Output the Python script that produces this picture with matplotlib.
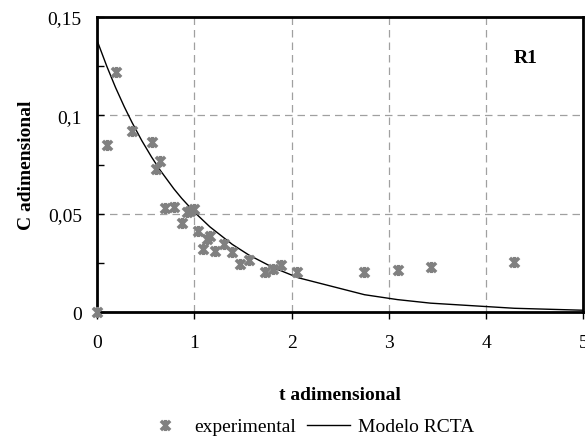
import matplotlib
matplotlib.use("Agg")
import matplotlib.pyplot as plt
from matplotlib.path import Path
from matplotlib.lines import Line2D

# experimental tracer response, reactor R1
t_exp = [0.00, 0.10, 0.19, 0.36, 0.56, 0.61, 0.65, 0.70, 0.79, 0.87, 0.92,
         0.96, 1.00, 1.04, 1.09, 1.13, 1.16, 1.21, 1.30, 1.39, 1.47, 1.56,
         1.73, 1.81, 1.89, 2.06, 2.75, 3.09, 3.43, 4.29]
c_exp = [0.000, 0.085, 0.122, 0.092, 0.0865, 0.0725, 0.077, 0.053, 0.0535,
         0.0452, 0.051, 0.0515, 0.0525, 0.0413, 0.032, 0.037, 0.0388, 0.0312,
         0.0346, 0.0307, 0.0244, 0.0266, 0.0202, 0.0219, 0.0239, 0.0205,
         0.0205, 0.0214, 0.0228, 0.0252]

# RCTA model curve
t_mod = [0.00, 0.10, 0.19, 0.28, 0.36, 0.46, 0.56, 0.65, 0.79, 0.87, 1.00,
         1.16, 1.39, 1.56, 1.81, 2.07, 2.75, 3.09, 3.43, 4.29, 5.00]
c_mod = [0.1380, 0.1249, 0.1141, 0.1043, 0.0963, 0.0871, 0.0788, 0.0720,
         0.0626, 0.0578, 0.0508, 0.0433, 0.0344, 0.0290, 0.0226, 0.0174,
         0.0088, 0.0063, 0.0045, 0.0019, 0.0009]

x_ticks = [0, 1, 2, 3, 4, 5]
y_ticks = [0, 0.05, 0.1, 0.15]
y_ticklabels = ["0", "0,05", "0,1", "0,15"]

plt.rcParams["font.family"] = ["Liberation Serif", "DejaVu Serif"]
GRAY = "#808080"

# Excel-style star: an x with a vertical bar through it
STAR = Path([(-1, -1), (1, 1), (-1, 1), (1, -1), (0, -1.2), (0, 1.2)],
            [Path.MOVETO, Path.LINETO, Path.MOVETO, Path.LINETO,
             Path.MOVETO, Path.LINETO])

fig = plt.figure(figsize=(5.85, 4.39), dpi=100)
ax = fig.add_axes([0.166, 0.287, 0.831, 0.672])

ax.plot(t_exp, c_exp, linestyle="none", marker=STAR, markersize=8,
        markeredgewidth=2.5, color=GRAY, zorder=4, clip_on=False)
ax.plot(t_mod, c_mod, color="black", linewidth=1.0, zorder=3)

ax.set_xlim(0, 5)
ax.set_ylim(0, 0.15)
ax.set_xticks(x_ticks)
ax.set_xticklabels([str(v) for v in x_ticks])
ax.set_yticks(y_ticks)
ax.set_yticklabels(y_ticklabels)
ax.set_yticks([0.025, 0.075, 0.125], minor=True)

ax.tick_params(axis="x", direction="out", length=5, width=1, pad=11,
               labelsize=14)
ax.tick_params(axis="y", which="both", direction="in", length=5, width=1,
               pad=11, labelsize=14)

for s in ax.spines.values():
    s.set_linewidth(2)
    s.set_color("black")

ax.grid(True, color="#a0a0a0", linestyle=(0, (6, 4)), linewidth=0.9)

ax.set_xlabel("t adimensional", fontsize=14, fontweight="bold", labelpad=25)
ax.set_ylabel("C adimensional", fontsize=14, fontweight="bold", labelpad=9)

ax.text(4.41, 0.1296, "R1", fontsize=14, fontweight="bold",
        ha="center", va="center")

handles = [
    Line2D([], [], linestyle="none", marker=STAR, markersize=8,
           markeredgewidth=2.5, color=GRAY),
    Line2D([], [], color="black", linewidth=1.0),
]
fig.legend(handles, ["experimental", "Modelo RCTA"], loc="center",
           bbox_to_anchor=(0.528, 0.026), ncol=2, frameon=False,
           fontsize=14, handlelength=2.2, handletextpad=0.4,
           columnspacing=0.6)

fig.savefig("out.png", dpi=100, facecolor="white")
